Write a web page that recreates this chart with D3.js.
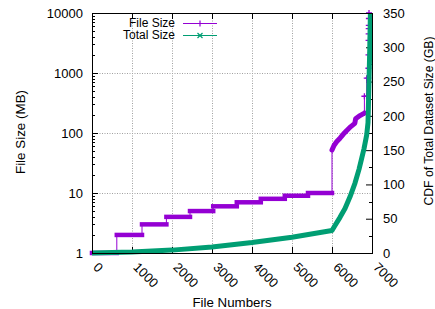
<!DOCTYPE html>
<html>
<head>
<meta charset="utf-8">
<script src="https://cdn.jsdelivr.net/npm/d3@7"></script>
<style>
  body { margin: 0; background: #fff; }
  text { font-family: "Liberation Sans", Arial, sans-serif; fill: #000; }
</style>
</head>
<body>
<script>
var width = 435,
    height = 309;

// File Size (MB): runs of equal size, file index where each run starts / ends
var sizeRunStart = [0, 620, 1250, 1860, 2450, 3030, 3620, 4220, 4820, 5400];
var sizeRunEnd   = [620, 1250, 1860, 2450, 3030, 3620, 4220, 4820, 5400, 6000];
var sizeRunValue = [1, 2, 3, 4, 5, 6, 7, 8, 9, 10];

// larger files after index 6000 (dense curve)
var tailFiles = [6000, 6050, 6120, 6200, 6280, 6370, 6470, 6570, 6590, 6700, 6810];
var tailSizes = [52, 62, 72, 82, 95, 110, 128, 145, 172, 195, 215];

// biggest files (sparse points)
var bigFiles = [6810, 6810, 6868, 6868, 6908, 6910, 6912, 6914, 6916, 6918, 6920, 6922, 6925];
var bigSizes = [215, 410, 410, 820, 820, 1200, 2000, 3500, 4500, 5500, 6200, 8100, 10000];

// Total Size, cumulative (GB)
var totalFiles = [0, 1000, 2000, 3000, 4000, 5000, 6000, 6075, 6200, 6325, 6450, 6575, 6675, 6742, 6800, 6867, 6900, 6925, 6945, 6960];
var totalGB    = [0, 1.4, 4.2, 8.8, 15.2, 23.1, 32.7, 40, 52, 65, 82, 102, 122, 138, 152, 172, 190, 250, 300, 350];

var xTicks = [0, 1000, 2000, 3000, 4000, 5000, 6000, 7000];
var yTicks = [1, 10, 100, 1000, 10000];
var y2Ticks = [0, 50, 100, 150, 200, 250, 300, 350];

var purple = "#9400d3",
    green = "#009e73";

var plotLeft = 92, plotRight = 372, plotTop = 13, plotBottom = 253;

var svg = d3.select("body").append("svg")
    .attr("width", width)
    .attr("height", height);

var x = d3.scaleLinear().domain([0, 7000]).range([plotLeft, plotRight]);
var y = d3.scaleLog().domain([1, 10000]).range([plotBottom, plotTop]);
var y2 = d3.scaleLinear().domain([0, 350]).range([plotBottom, plotTop]);

// grid
var grid = svg.append("g")
    .attr("stroke", "#a0a0a0")
    .attr("stroke-width", 1)
    .attr("stroke-dasharray", "1,1.5");
grid.selectAll(".gx")
  .data(xTicks.slice(1, -1))
  .enter().append("line")
  .attr("x1", function(d) { return Math.round(x(d)) + 0.5; })
  .attr("x2", function(d) { return Math.round(x(d)) + 0.5; })
  .attr("y1", plotTop).attr("y2", plotBottom);
grid.selectAll(".gy")
  .data(yTicks.slice(1, -1))
  .enter().append("line")
  .attr("y1", function(d) { return Math.round(y(d)) + 0.5; })
  .attr("y2", function(d) { return Math.round(y(d)) + 0.5; })
  .attr("x1", plotLeft).attr("x2", plotRight);

// axes
var gLeft = svg.append("g")
    .attr("transform", "translate(" + plotLeft + ",0)")
    .call(d3.axisLeft(y).tickValues(yTicks).tickFormat(d3.format("d")).tickSize(-6).tickPadding(9));

var gRight = svg.append("g")
    .attr("transform", "translate(" + plotRight + ",0)")
    .call(d3.axisRight(y2).tickValues(y2Ticks).tickFormat(d3.format("d")).tickSize(-6).tickPadding(11));

var gBottom = svg.append("g")
    .attr("transform", "translate(0," + plotBottom + ")")
    .call(d3.axisBottom(x).tickValues(xTicks).tickFormat(d3.format("d")).tickSize(-6));

var gTop = svg.append("g")
    .attr("transform", "translate(0," + plotTop + ")")
    .call(d3.axisTop(x).tickValues(xTicks).tickSize(-6).tickFormat(""));

[gLeft, gRight, gBottom, gTop].forEach(function(g) {
  g.select(".domain").remove();
  g.attr("font-family", null).attr("font-size", null);
  g.selectAll("text").style("font-size", "13px");
});

gBottom.selectAll("text")
  .attr("y", null)
  .attr("dy", null)
  .attr("text-anchor", "start")
  .attr("transform", "translate(0,15) rotate(45)");

// minor ticks
var minorLog = [];
[1, 10, 100, 1000].forEach(function(d) {
  for (var k = 2; k < 10; k++) minorLog.push(d * k);
});
svg.append("g").selectAll("line")
  .data(minorLog)
  .enter().append("line")
  .attr("x1", plotLeft).attr("x2", plotLeft + 3)
  .attr("y1", function(d) { return Math.round(y(d)) + 0.5; })
  .attr("y2", function(d) { return Math.round(y(d)) + 0.5; })
  .attr("stroke", "#000");

svg.append("g").selectAll("line")
  .data(d3.range(25, 350, 50))
  .enter().append("line")
  .attr("x1", plotRight).attr("x2", plotRight - 3)
  .attr("y1", function(d) { return Math.round(y2(d)) + 0.5; })
  .attr("y2", function(d) { return Math.round(y2(d)) + 0.5; })
  .attr("stroke", "#000");

// File Size series
var sizePoints = [];
sizeRunStart.forEach(function(s, i) {
  sizePoints.push([s, sizeRunValue[i]]);
  sizePoints.push([sizeRunEnd[i], sizeRunValue[i]]);
});
tailFiles.forEach(function(f, i) { sizePoints.push([f, tailSizes[i]]); });
bigFiles.forEach(function(f, i) { sizePoints.push([f, bigSizes[i]]); });

var line = d3.line()
    .x(function(d) { return x(d[0]); })
    .y(function(d) { return y(d[1]); });

svg.append("path")
  .datum(sizePoints)
  .attr("fill", "none")
  .attr("stroke", purple)
  .attr("stroke-width", 1)
  .attr("d", line);

// dense markers read as thick bars
svg.append("g").selectAll("line")
  .data(sizeRunStart)
  .enter().append("line")
  .attr("x1", function(d) { return x(d); })
  .attr("x2", function(d, i) { return x(sizeRunEnd[i]); })
  .attr("y1", function(d, i) { return y(sizeRunValue[i]); })
  .attr("y2", function(d, i) { return y(sizeRunValue[i]); })
  .attr("stroke", purple)
  .attr("stroke-width", 4.5)
  .attr("stroke-linecap", "square");

svg.append("path")
  .datum(tailFiles.map(function(f, i) { return [f, tailSizes[i]]; }))
  .attr("fill", "none")
  .attr("stroke", purple)
  .attr("stroke-width", 5)
  .attr("stroke-linecap", "round")
  .attr("stroke-linejoin", "round")
  .attr("d", line);

function plusPath(s) {
  return "M" + (-s) + ",0H" + s + "M0," + (-s) + "V" + s;
}
function crossPath(s) {
  return "M" + (-s) + "," + (-s) + "L" + s + "," + s + "M" + (-s) + "," + s + "L" + s + "," + (-s);
}

svg.append("g").selectAll("path")
  .data(bigFiles)
  .enter().append("path")
  .attr("transform", function(d, i) { return "translate(" + x(d) + "," + y(bigSizes[i]) + ")"; })
  .attr("d", plusPath(3))
  .attr("stroke", purple)
  .attr("stroke-width", 1.3);

// Total Size series
var line2 = d3.line()
    .x(function(d) { return x(d[0]); })
    .y(function(d) { return y2(d[1]); });

svg.append("path")
  .datum(totalFiles.map(function(f, i) { return [f, totalGB[i]]; }))
  .attr("fill", "none")
  .attr("stroke", green)
  .attr("stroke-width", 5)
  .attr("stroke-linejoin", "round")
  .attr("d", line2);

// border
svg.append("rect")
  .attr("x", plotLeft + 0.5).attr("y", plotTop + 0.5)
  .attr("width", plotRight - plotLeft).attr("height", plotBottom - plotTop)
  .attr("fill", "none")
  .attr("stroke", "#000")
  .attr("stroke-width", 1);

// legend
var legend = [
  {name: "File Size", color: purple, marker: plusPath(3), y: 23},
  {name: "Total Size", color: green, marker: crossPath(2.5), y: 35}
];
var lg = svg.append("g").selectAll("g")
  .data(legend)
  .enter().append("g");
lg.append("text")
  .attr("x", 175)
  .attr("y", function(d) { return d.y + 4; })
  .attr("text-anchor", "end")
  .style("font-size", "12px")
  .text(function(d) { return d.name; });
lg.append("line")
  .attr("x1", 183).attr("x2", 217)
  .attr("y1", function(d) { return d.y + 0.5; })
  .attr("y2", function(d) { return d.y + 0.5; })
  .attr("stroke", function(d) { return d.color; })
  .attr("stroke-width", 1.2);
lg.append("path")
  .attr("transform", function(d) { return "translate(200," + (d.y + 0.5) + ")"; })
  .attr("d", function(d) { return d.marker; })
  .attr("stroke", function(d) { return d.color; })
  .attr("stroke-width", 1.2);

// axis titles
svg.append("text")
  .attr("transform", "translate(24.5,132) rotate(-90)")
  .attr("text-anchor", "middle")
  .style("font-size", "13.4px")
  .text("File Size (MB)");

svg.append("text")
  .attr("transform", "translate(433,121) rotate(-90)")
  .attr("text-anchor", "middle")
  .style("font-size", "12.2px")
  .text("CDF of Total Dataset Size (GB)");

svg.append("text")
  .attr("x", 232)
  .attr("y", 306.5)
  .attr("text-anchor", "middle")
  .style("font-size", "13.3px")
  .text("File Numbers");
</script>
</body>
</html>
